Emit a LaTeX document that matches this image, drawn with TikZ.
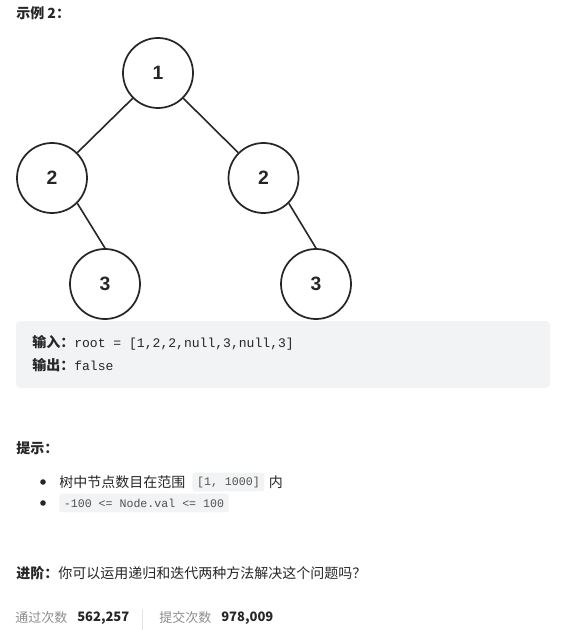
\documentclass[tikz,border=0pt]{standalone}
\usepackage{fontspec}
\setmainfont{Noto Sans CJK SC}
\setmonofont{Liberation Mono}
\newfontfamily\digitfont{Liberation Sans}
\usetikzlibrary{positioning}
\definecolor{ink}{HTML}{262626}
\definecolor{codebg}{HTML}{F2F3F5}
\definecolor{codeink}{HTML}{505050}
\definecolor{mutedink}{HTML}{8C8C8C}
\definecolor{ruleline}{HTML}{E3E3E3}

\begin{document}
\begin{tikzpicture}[
  x=0.75pt, y=-0.75pt,
  font=\fontsize{10.5}{13}\selectfont, text=ink,
  treenode/.style={circle,draw=ink,line width=1.3pt,minimum size=52.5pt,inner sep=0pt,font=\digitfont\bfseries\fontsize{14.5}{16}\selectfont},
  edge/.style={draw=ink,line width=1.2pt},
  txt/.style={anchor=west,inner sep=0pt},
  code/.style={anchor=west,fill=codebg,rounded corners=2pt,inner xsep=3.5pt,inner ysep=0pt,minimum height=14pt,text=codeink,font=\ttfamily\fontsize{8.7}{10}\selectfont},
  dot/.style={circle,fill=ink,inner sep=0pt,minimum size=4.2pt},
]
\useasboundingbox (0,0) rectangle (565,630);
% heading
\node[txt] (title) at (16,13) {\bfseries 示例 2：};
% tree
\node[treenode] (n1)  at (158,73)    {1};
\node[treenode] (n2l) at (52,178)    {2};
\node[treenode] (n2r) at (263.5,178) {2};
\node[treenode] (n3l) at (105,284)   {3};
\node[treenode] (n3r) at (316,284)   {3};
\draw[edge] (n1.225) -- (n2l.45);
\draw[edge] (n1.-45) -- (n2r.135);
\draw[edge] (n2l.-45) -- (n3l.north);
\draw[edge] (n2r.-45) -- (n3r.north);
% example panel
\fill[codebg,rounded corners=3pt] (16,321) rectangle (550,388);
\node[txt] (inp) at (32,343) {\bfseries 输入：\mdseries\ttfamily\fontsize{9.8}{12}\selectfont root = [1,2,2,null,3,null,3]};
\node[txt] (outp) at (32,365) {\bfseries 输出：\mdseries\ttfamily\fontsize{9.8}{12}\selectfont false};
% hints
\node[txt] (hint) at (16,448) {\bfseries 提示：};
\node[dot] (b1) at (43,482) {};
\node[dot] (b2) at (43,503) {};
\node[txt] (tip1) at (59,482) {树中节点数目在范围};
\node[code, right=5pt of tip1] (range) {[1, 1000]};
\node[txt, right=3pt of range] (tip1end) {内};
\node[code] (bound) at (59,503) {-100 <= Node.val <= 100};
% follow-up
\node[txt] (adv) at (16,573) {\bfseries 进阶：\mdseries 你可以运用递归和迭代两种方法解决这个问题吗？};
% stats
\node[txt, text=mutedink, font=\fontsize{9.75}{12}\selectfont] (passlbl) at (15,618) {通过次数};
\node[txt, font=\bfseries\fontsize{9.75}{12}\selectfont] (passnum) at (77,618) {562,257};
\draw[ruleline] (142,610) -- (142,630);
\node[txt, text=mutedink, font=\fontsize{9.75}{12}\selectfont] (sublbl) at (159,618) {提交次数};
\node[txt, font=\bfseries\fontsize{9.75}{12}\selectfont] (subnum) at (221,618) {978,009};
\end{tikzpicture}
\end{document}
